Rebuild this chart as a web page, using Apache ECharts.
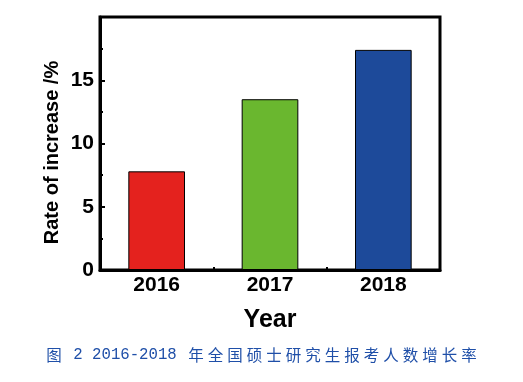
<!DOCTYPE html>
<html>
<head>
<meta charset="utf-8">
<script src="https://cdn.jsdelivr.net/npm/echarts@6/dist/echarts.min.js"></script>
<style>html,body{margin:0;padding:0;background:#fff}#c{width:523px;height:382px}</style>
</head>
<body>
<div id="c"></div>
<script>
var categories = ['2016', '2017', '2018'];
var rates = [7.8, 13.5, 17.4];
var barColors = ['#e4221e', '#6ab72f', '#1d4a9a'];
var yTicks = [0, 5, 10, 15, 20];
var xName = 'Year';
var yName = 'Rate of increase /%';
var caption = '图 2 2016-2018 年全国硕士研究生报考人数增长率';

// build rich-text caption: CJK glyphs in wide cells, Latin in monospace
function richCaption(s) {
  var out = '', latin = '';
  for (var i = 0; i < s.length; i++) {
    var ch = s.charAt(i);
    if (ch.charCodeAt(0) > 0x2e80) {
      if (latin) { out += '{l|' + latin + '}'; latin = ''; }
      out += '{h|' + ch + '}';
    } else {
      latin += ch;
    }
  }
  if (latin) out += '{l|' + latin + '}';
  return out;
}

var chart = echarts.init(document.getElementById('c'));
var sans = '"Liberation Sans", Arial, Helvetica, sans-serif';
var capColor = '#1f4fa8';
chart.setOption({
  animation: false,
  backgroundColor: '#fff',
  title: {
    text: richCaption(caption),
    left: 'center',
    top: 342,
    textStyle: {
      fontSize: 15,
      fontWeight: 'normal',
      color: capColor,
      rich: {
        h: { fontFamily: '"Noto Sans CJK SC", sans-serif', fontSize: 15.5, fontWeight: 'normal', color: capColor, padding: [0, 2.0, 0, 2.0] },
        l: { fontFamily: '"Liberation Mono", "DejaVu Sans Mono", monospace', fontSize: 15.7, fontWeight: 'normal', color: capColor }
      }
    }
  },
  grid: { left: 100, right: 83, top: 17, bottom: 112, show: true, borderColor: '#000', borderWidth: 3, backgroundColor: 'transparent' },
  xAxis: [{
    type: 'category',
    data: categories,
    position: 'bottom',
    name: xName,
    nameLocation: 'middle',
    nameGap: 38,
    nameMoveOverlap: false,
    nameTextStyle: { fontFamily: sans, fontSize: 25, fontWeight: 'bold', color: '#000' },
    axisLine: { show: true, lineStyle: { color: '#000', width: 3 } },
    axisTick: { show: true, inside: true, alignWithLabel: true, length: 5, lineStyle: { color: '#000', width: 2 } },
    axisLabel: { margin: 5, fontFamily: sans, fontSize: 21, fontWeight: 'bold', color: '#000' },
    splitLine: { show: false }
  }, {
    type: 'category',
    data: categories,
    position: 'bottom',
    axisLine: { show: false },
    axisTick: { show: true, inside: true, alignWithLabel: false, length: 3, lineStyle: { color: '#000', width: 2 } },
    axisLabel: { show: false },
    splitLine: { show: false }
  }],
  yAxis: {
    type: 'value',
    min: yTicks[0],
    max: yTicks[yTicks.length - 1],
    interval: 5,
    name: yName,
    nameLocation: 'middle',
    nameGap: 38,
    nameMoveOverlap: false,
    nameRotate: 90,
    nameTextStyle: { fontFamily: sans, fontSize: 20, fontWeight: 'bold', color: '#000', padding: [0, 18, 0, 0] },
    axisLine: { show: true, lineStyle: { color: '#000', width: 3 } },
    axisTick: { show: true, inside: true, length: 5, lineStyle: { color: '#000', width: 2 } },
    minorTick: { show: true, splitNumber: 2, length: 3, lineStyle: { color: '#000', width: 2 } },
    axisLabel: { margin: 6, showMaxLabel: false, fontFamily: sans, fontSize: 21, fontWeight: 'bold', color: '#000' },
    splitLine: { show: false },
    minorSplitLine: { show: false }
  },
  series: [{
    type: 'bar',
    xAxisIndex: 0,
    barWidth: '50%',
    data: rates.map(function (v, i) {
      return { value: v, itemStyle: { color: barColors[i], borderColor: '#000', borderWidth: 1 } };
    })
  }]
});
</script>
</body>
</html>
